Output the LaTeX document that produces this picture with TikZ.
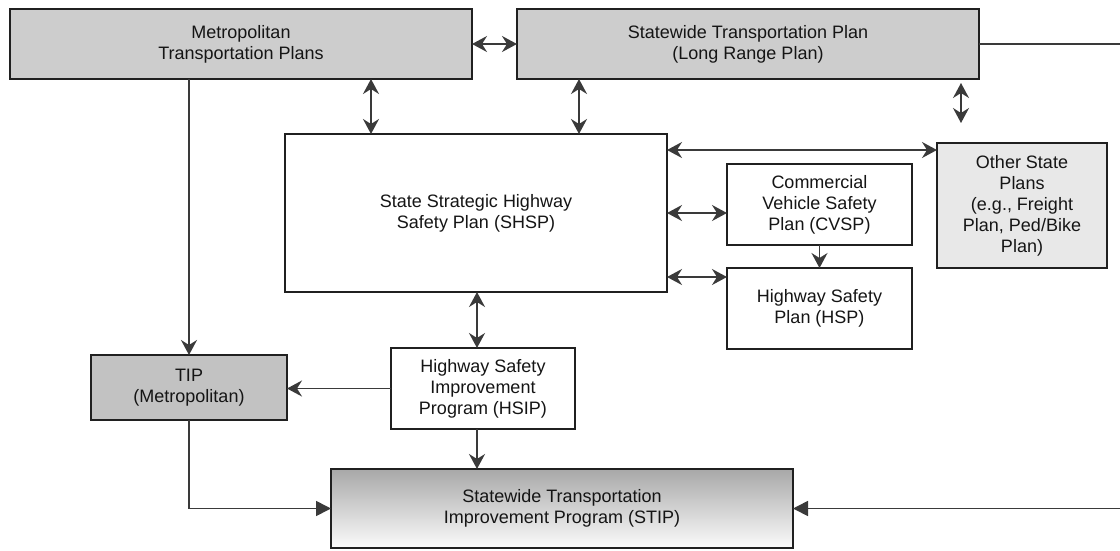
\documentclass[tikz,border=0pt]{standalone}
\usepackage{fontspec}
\setmainfont{Liberation Sans}
\usetikzlibrary{arrows.meta,calc}
\definecolor{boxline}{HTML}{202020}
\definecolor{conn}{HTML}{3A3A3A}
\definecolor{txt}{HTML}{151515}
\definecolor{planfill}{HTML}{CDCDCD}
\definecolor{tipfill}{HTML}{C2C2C2}
\definecolor{otherfill}{HTML}{E8E8E8}
\definecolor{stiptop}{HTML}{A8A8A8}
\definecolor{stipbot}{HTML}{FBFBFB}
\tikzset{
  x=1pt, y=-1pt,
  box/.style={draw=boxline, line width=2.3pt, inner sep=0pt, outer sep=0pt,
    align=center, text=txt, font=\fontsize{18}{21}\selectfont},
  conline/.style={draw=conn, line width=1.7pt},
  tipS/.tip={Stealth[length=15pt,width=16pt,inset=5pt]},
  dbl/.style={conline, tipS-tipS},
  sgl/.style={conline, -tipS},
  tri/.style={conline, -{Triangle[length=15pt,width=15pt]}},
}
\begin{document}
\begin{tikzpicture}
\useasboundingbox (0,0) rectangle (1120,550);
\fill[white] (0,0) rectangle (1120,550);

\node[box, fill=planfill, minimum width=462pt, minimum height=70pt] (metro) at (241,44) {Metropolitan\\Transportation Plans};
\node[box, fill=planfill, minimum width=462pt, minimum height=70pt] (state) at (748,44) {Statewide Transportation Plan\\(Long Range Plan)};
\node[box, fill=white, minimum width=382pt, minimum height=158pt] (shsp) at (476,213) {State Strategic Highway\\Safety Plan (SHSP)};
\node[box, fill=white, minimum width=185pt, minimum height=81pt] (cvsp) at (819.5,204.5) {Commercial\\Vehicle Safety\\Plan (CVSP)};
\node[box, fill=white, minimum width=185pt, minimum height=81pt] (hsp) at (819.5,308.5) {Highway Safety\\Plan (HSP)};
\node[box, fill=otherfill, minimum width=170pt, minimum height=125pt] (other) at (1022,205.5) {Other State\\Plans\\(e.g., Freight\\Plan, Ped/Bike\\Plan)};
\node[box, fill=tipfill, minimum width=196pt, minimum height=65pt] (tip) at (189,387.5) {TIP\\(Metropolitan)};
\node[box, fill=white, minimum width=184pt, minimum height=81pt] (hsip) at (483,388.5) {Highway Safety\\Improvement\\Program (HSIP)};
\node[box, top color=stiptop, bottom color=stipbot, minimum width=462pt, minimum height=79pt] (stip) at (562,508.5) {Statewide Transportation\\Improvement Program (STIP)};

\coordinate (fa) at (961,83);
\coordinate (fb) at (961,123);
\coordinate (e1) at (1120,44);
\coordinate (e2) at (1120,508.5);

\draw[dbl] (metro) -- (state);
\draw[dbl] ([xshift=86pt]shsp.north west |- metro.south) -- ([xshift=86pt]shsp.north west);
\draw[dbl] ([xshift=294pt]shsp.north west |- state.south) -- ([xshift=294pt]shsp.north west);
\draw[dbl] (fa) -- (fb);
\draw[conline] (state.east) -- (e1);
\draw[dbl] ([yshift=-16pt]shsp.north east) -- ([yshift=-16pt]shsp.north east -| other.west);
\draw[dbl] (shsp.east) -- (shsp.east -| cvsp.west);
\draw[dbl] ([yshift=-64pt]shsp.east) -- ([yshift=-64pt]shsp.east -| hsp.west);
\draw[sgl] (cvsp.south) -- (hsp.north);
\draw[dbl] ([xshift=192pt]shsp.south west) -- ([xshift=192pt]shsp.south west |- hsip.north);
\draw[sgl] (hsip.west) -- (hsip.west -| tip.east);
\draw[sgl] (tip.north |- metro.south) -- (tip.north);
\draw[tri] (tip.south) |- (stip.west);
\draw[sgl] ([xshift=86pt]hsip.south west) -- ([xshift=86pt]hsip.south west |- stip.north);
\draw[tri] (e2) -- (stip.east);
\end{tikzpicture}
\end{document}
